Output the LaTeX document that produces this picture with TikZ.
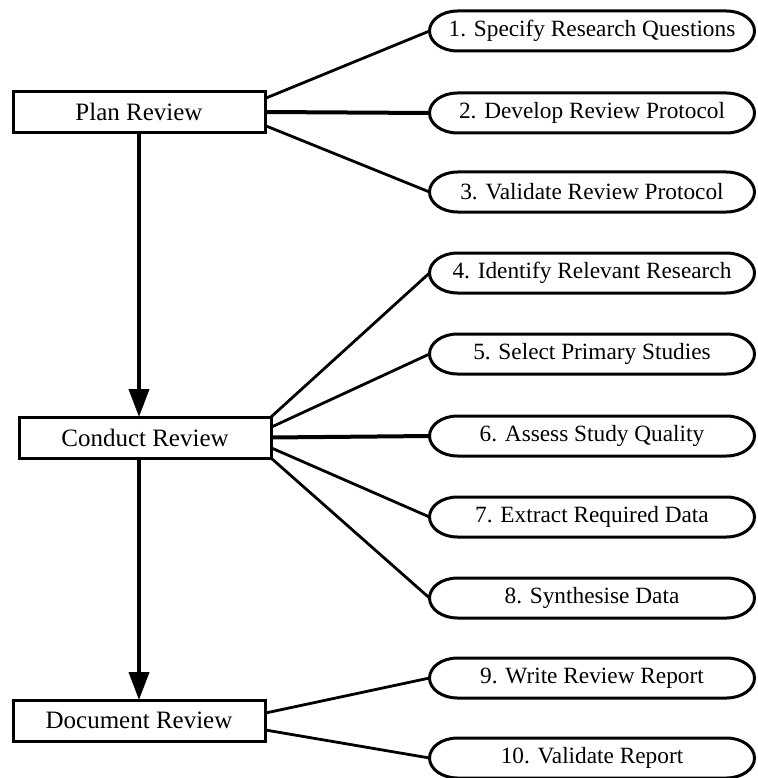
\documentclass[tikz,border=0pt]{standalone}
\usepackage{fontspec}
\setmainfont{Liberation Serif}
\usetikzlibrary{arrows.meta,calc}

% Oval task node: an invisible text node framed by a path with elliptical ends
\newcommand\taskoval[3]{%
  \node[tasktext] (#1) at (592,#2) {#3};
  \draw[ovalline] ([xshift=28pt]#1.north west) -- ([xshift=-28pt]#1.north east)
    arc[start angle=90,end angle=-90,x radius=28pt,y radius=20pt]
    -- ([xshift=28pt]#1.south west)
    arc[start angle=270,end angle=90,x radius=28pt,y radius=20pt] -- cycle;
}

\begin{document}
\begin{tikzpicture}[x=1pt,y=-1pt,
  stagebox/.style={draw, line width=3pt, fill=white, minimum width=252pt,
    minimum height=41pt, inner sep=0pt, outer sep=0pt,
    font=\fontsize{25}{28}\selectfont},
  tasktext/.style={minimum width=325pt, minimum height=40pt, inner sep=0pt,
    outer sep=0pt, font=\fontsize{23.3}{26}\selectfont},
  ovalline/.style={line width=3pt},
  link/.style={line width=2.8pt},
  mainlink/.style={line width=4pt},
  flow/.style={line width=4pt, -{Triangle[length=28pt,width=20pt]}}
]
\useasboundingbox (0,0) rectangle (757,778);

% stages
\node[stagebox] (plan) at (139,112) {Plan Review};
\node[stagebox] (conduct) at (145,437.5) {Conduct Review};
\node[stagebox] (document) at (139,720.5) {Document Review};

% tasks
\taskoval{t1}{31}{1. Specify Research Questions}
\taskoval{t2}{113}{2. Develop Review Protocol}
\taskoval{t3}{192}{3. Validate Review Protocol}
\taskoval{t4}{273}{4. Identify Relevant Research}
\taskoval{t5}{354}{5. Select Primary Studies}
\taskoval{t6}{436}{6. Assess Study Quality}
\taskoval{t7}{517}{7. Extract Required Data}
\taskoval{t8}{598}{8. Synthesise Data}
\taskoval{t9}{678}{9. Write Review Report}
\taskoval{t10}{758}{10. Validate Report}

% stage-to-task links
\draw[link] ($(plan.north east)!0.17!(plan.south east)$) -- (t1.west);
\draw[mainlink] (plan.east) -- (t2.west);
\draw[link] ($(plan.north east)!0.83!(plan.south east)$) -- (t3.west);

\draw[link] (conduct.north east) -- (t4.west);
\draw[link] ($(conduct.north east)!0.25!(conduct.south east)$) -- (t5.west);
\draw[mainlink] (conduct.east) -- (t6.west);
\draw[link] ($(conduct.north east)!0.75!(conduct.south east)$) -- (t7.west);
\draw[link] (conduct.south east) -- (t8.west);

\draw[link] ($(document.north east)!0.32!(document.south east)$) -- (t9.west);
\draw[link] ($(document.north east)!0.73!(document.south east)$) -- (t10.west);

% stage flow
\draw[flow] (plan.south) -- (plan.south |- conduct.north);
\draw[flow] (plan.south |- conduct.south) -- (document.north);
\end{tikzpicture}
\end{document}
